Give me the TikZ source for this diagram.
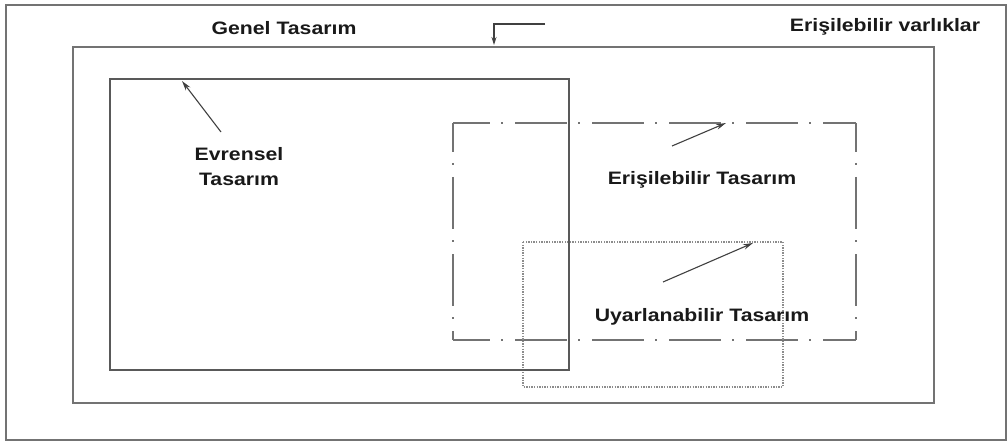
\documentclass[tikz,border=0pt]{standalone}
\usepackage{fontspec}
\setmainfont{Liberation Sans}[FakeStretch=1.18]
\usetikzlibrary{arrows.meta}
\begin{document}
\begin{tikzpicture}[x=1pt,y=-1pt,
  frame/.style={draw=black!55, line width=1.4pt},
  solidbox/.style={draw=black!65, line width=1.3pt},
  dashdotside/.style={draw=black!55, line width=1.4pt, dash pattern=on 52pt off 11pt on 2pt off 12pt},
  dottedbox/.style={draw=black!45, line width=1.1pt, dash pattern=on 1.4pt off 1.2pt},
  lbl/.style={font=\bfseries\fontsize{18}{25}\selectfont, text=black!90, inner sep=0pt, align=center},
  pointer/.style={draw=black!75, line width=1.1pt, -{Stealth[length=10pt,width=5.5pt]}}]
  \useasboundingbox (0,0) rectangle (1008,446);

  % outer frame and the general design area
  \draw[frame] (6,5) rectangle (1006,440);
  \draw[frame] (73,47) rectangle (934,403);

  % accessible design region: dash-dot sides, each starting at a corner
  \coordinate (dA) at (453,123);
  \coordinate (dB) at (856,123);
  \coordinate (dC) at (856,340);
  \coordinate (dD) at (453,340);
  \draw[dashdotside, dash phase=15pt] (dA) -- (dB);
  \draw[dashdotside, dash phase=15pt] (dD) -- (dC);
  \draw[dashdotside, dash phase=23pt] (dA) -- (dD);
  \draw[dashdotside, dash phase=23pt] (dB) -- (dC);

  % adaptable design region
  \draw[dottedbox] (523,242) rectangle (783,387);

  % universal design region
  \draw[solidbox] (110,79) rectangle (569,370);

  % labels
  \node[lbl] (genel) at (284,28.5) {Genel Tasarım};
  \node[lbl] (varlik) at (885,27) {Erişilebilir varlıklar};
  \node[lbl] (evrensel) at (239,167) {Evrensel\\Tasarım};
  \node[lbl] (erisilebilir) at (702,180) {Erişilebilir Tasarım};
  \node[lbl] (uyarlanabilir) at (702,316.5) {Uyarlanabilir Tasarım};

  % pointers to the region borders
  \coordinate (vstart) at (545,24);
  \coordinate (vbend) at (494,24);
  \coordinate (vtip) at (494,45);
  \draw[pointer, -{Stealth[length=8pt,width=5pt]}] (vstart) -- (vbend) -- (vtip);

  \coordinate (evs) at (221,132);
  \coordinate (evt) at (182,81);
  \draw[pointer] (evs) -- (evt);

  \coordinate (ers) at (672,146);
  \coordinate (ert) at (726,123);
  \draw[pointer] (ers) -- (ert);

  \coordinate (uys) at (663,282);
  \coordinate (uyt) at (753,243);
  \draw[pointer] (uys) -- (uyt);
\end{tikzpicture}
\end{document}
